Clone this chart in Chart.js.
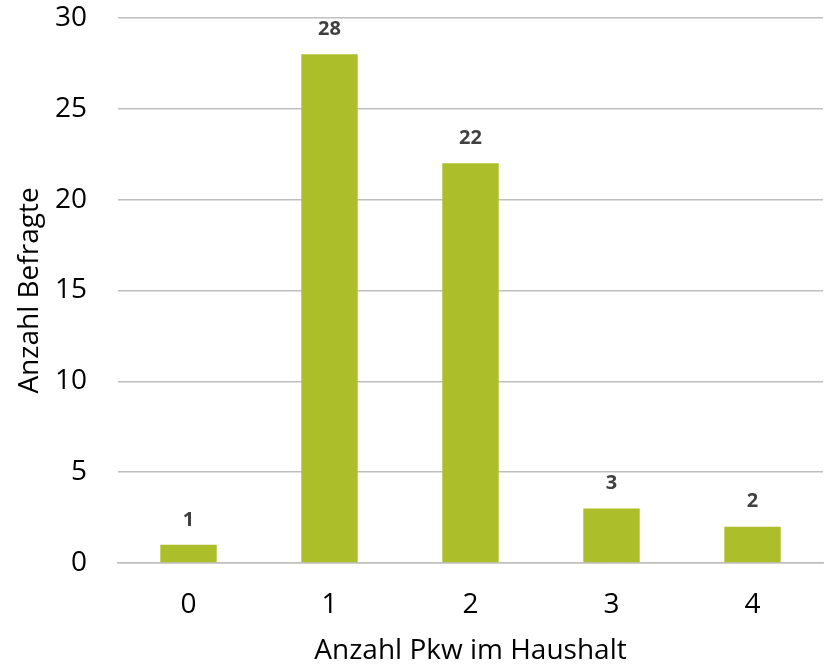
<!DOCTYPE html>
<html>
<head>
<meta charset="utf-8">
<script src="https://cdn.jsdelivr.net/npm/chart.js@4"></script>
<style>
    html, body { margin: 0; padding: 0; background: #fff; }
    #box { width: 829px; height: 665px; }
</style>
</head>
<body>
<div id="box"><canvas id="pkw-chart"></canvas></div>
<script>
const categories = ["0", "1", "2", "3", "4"];
const befragte = [1, 28, 22, 3, 2];
const yTicks = [0, 5, 10, 15, 20, 25, 30];

Chart.defaults.font.family = "Open Sans";
Chart.defaults.color = "#000";

// Werte über den Balken
const barLabelPlugin = {
    id: "barLabels",
    afterDatasetsDraw(chart) {
        const { ctx } = chart;
        const meta = chart.getDatasetMeta(0);
        ctx.save();
        ctx.fillStyle = "#404040";
        ctx.font = "bold 20px 'Open Sans'";
        ctx.textAlign = "center";
        ctx.textBaseline = "middle";
        meta.data.forEach((bar, i) => {
            ctx.fillText(String(befragte[i]), bar.x, bar.y - 25);
        });
        ctx.restore();
    },
};

new Chart(document.getElementById("pkw-chart"), {
    type: "bar",
    data: {
        labels: categories,
        datasets: [
            {
                data: befragte,
                backgroundColor: "#acbf2b",
                categoryPercentage: 1,
                barPercentage: 0.4,
            },
        ],
    },
    options: {
        responsive: true,
        maintainAspectRatio: false,
        animation: false,
        layout: { padding: { top: 18, right: 6, left: 0, bottom: 0 } },
        plugins: {
            legend: { display: false },
            tooltip: { enabled: false },
        },
        scales: {
            x: {
                grid: { display: false, drawTicks: false },
                border: { color: "#bfbfbf", width: 1.5 },
                ticks: { font: { size: 28 }, padding: 25 },
                title: {
                    display: true,
                    text: "Anzahl Pkw im Haushalt",
                    font: { size: 28, lineHeight: 1 },
                    padding: { top: 0, bottom: 0 },
                },
                afterFit(scale) {
                    scale.height = 102;
                    scale.paddingLeft = 0;
                    scale.paddingRight = 0;
                },
            },
            y: {
                min: 0,
                max: 30,
                afterBuildTicks(scale) {
                    scale.ticks = yTicks.map((v) => ({ value: v }));
                },
                grid: { color: "#bfbfbf", lineWidth: 1.5, drawTicks: false },
                border: { display: false },
                ticks: { font: { size: 28 }, padding: 31 },
                title: {
                    display: true,
                    text: "Anzahl Befragte",
                    font: { size: 28, lineHeight: 1 },
                    padding: { top: 16, bottom: 0 },
                },
                afterFit(scale) {
                    scale.width = 118;
                    scale.paddingTop = 0;
                    scale.paddingBottom = 0;
                },
            },
        },
    },
    plugins: [barLabelPlugin],
});
</script>
</body>
</html>
